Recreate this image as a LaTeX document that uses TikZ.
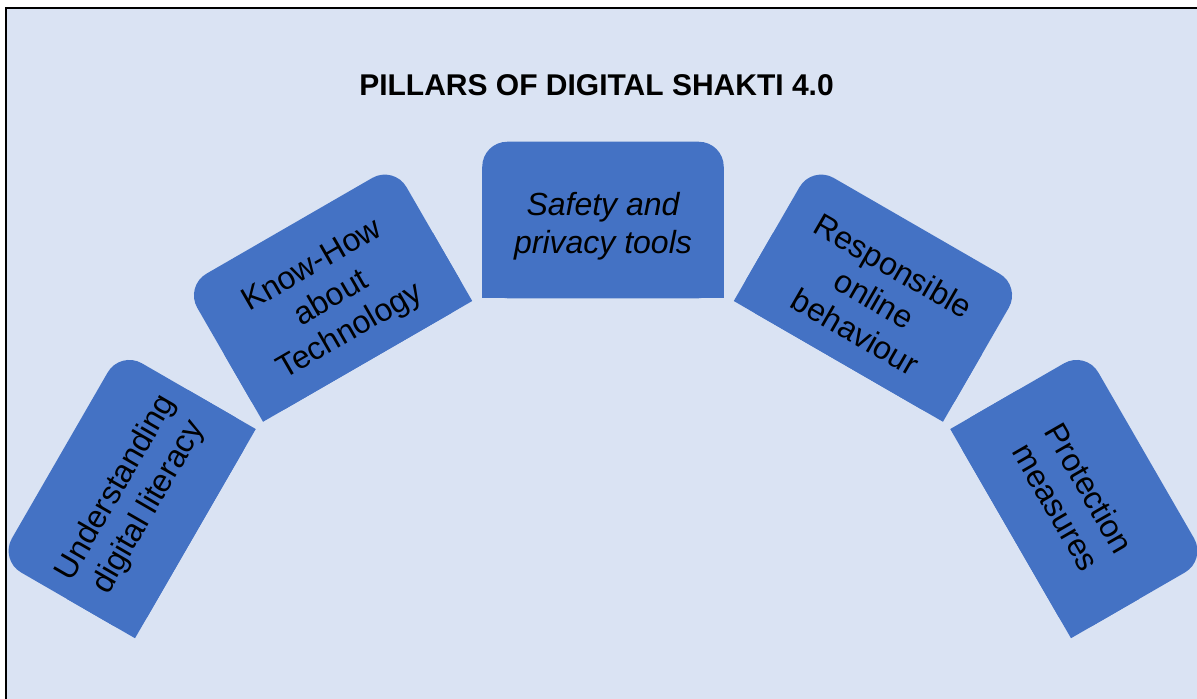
\documentclass[tikz,border=0pt]{standalone}
\usepackage{fontspec}
\setmainfont{Liberation Sans}
\usetikzlibrary{backgrounds}
\definecolor{bgblue}{HTML}{DAE3F3}
\definecolor{boxblue}{HTML}{4472C4}
\newcommand\toppad{\rule{0pt}{26.5pt}}
\tikzset{
  pillar/.style={minimum width=180.75pt, minimum height=117pt, inner sep=0pt,
    align=center, text=black, font=\fontsize{24pt}{28.5pt}\selectfont},
  titletext/.style={font=\bfseries\fontsize{22.5pt}{27pt}\selectfont, text=black},
  frameline/.style={draw=black, line width=1.5pt}
}
\newcommand\pillarfill[1]{%
  \fill[boxblue, rounded corners=18.75pt] (#1.south west) -- (#1.south east) -- (#1.north east) -- (#1.north west) -- cycle;
  \fill[boxblue] (#1.south west) -- (#1.south east) -- (#1.east) -- (#1.west) -- cycle;
}
\begin{document}
\begin{tikzpicture}[x=0.75pt,y=0.75pt]
\useasboundingbox (0,0) rectangle (1197,-699);
\node[titletext] (title) at (596.5,-85.5) {PILLARS OF DIGITAL SHAKTI 4.0};
\node[pillar, rotate=60] (p1) at (127.6,-494.5) {\toppad Understanding\\digital literacy};
\node[pillar, rotate=30] (p2) at (328.5,-293.6) {\toppad Know-How\\about\\Technology};
\node[pillar, font=\itshape\fontsize{24pt}{28.5pt}\selectfont] (p3) at (603,-220) {\toppad Safety and\\privacy tools};
\node[pillar, rotate=-30] (p4) at (877.5,-293.6) {\toppad Responsible\\online\\behaviour};
\node[pillar, rotate=-60] (p5) at (1078.4,-494.5) {\toppad Protection\\measures};
\begin{scope}[on background layer]
  \fill[white] (0,0) rectangle (1197,-699);
  \fill[bgblue] (6,-8.5) rectangle (1197,-699);
  \draw[frameline] (6,-699) -- (6,-8.5) -- (1197,-8.5);
  \pillarfill{p1}
  \pillarfill{p2}
  \pillarfill{p3}
  \pillarfill{p4}
  \pillarfill{p5}
\end{scope}
\end{tikzpicture}
\end{document}
